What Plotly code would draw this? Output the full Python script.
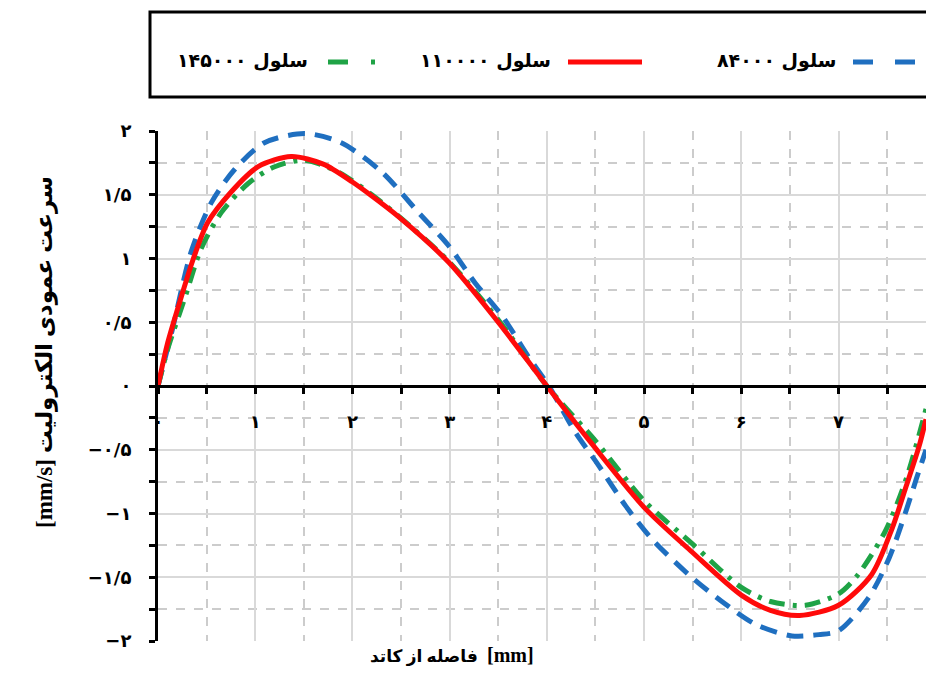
import plotly.graph_objects as go

# ---------------- data ----------------
series_names = ["سلول ۸۴۰۰۰", "سلول ۱۱۰۰۰۰", "سلول ۱۴۵۰۰۰"]

x_84k = [0, 0.15, 0.34, 0.55, 0.79, 1.10, 1.51, 1.88, 2.3, 2.68, 2.99, 3.26, 3.54, 3.81, 4.02,
         4.29, 4.53, 4.81, 5.08, 5.46, 5.80, 6.15, 6.52, 6.8, 7.0, 7.31, 7.52, 7.69, 7.80, 7.9]
y_84k = [0, 0.45, 1.05, 1.44, 1.70, 1.91, 1.98, 1.91, 1.68, 1.36, 1.10, 0.81, 0.55, 0.23, 0.0,
         -0.36, -0.62, -0.94, -1.20, -1.48, -1.69, -1.87, -1.96, -1.95, -1.92, -1.66, -1.35, -0.99, -0.73, -0.5]

x_110k = [0, 0.1, 0.24, 0.36, 0.51, 0.75, 1.03, 1.37, 1.7, 2.0, 2.2, 2.47, 2.99, 3.5, 3.98, 4.46,
          5.01, 5.49, 6.0, 6.3, 6.6, 7.0, 7.34, 7.55, 7.69, 7.83, 7.9]
y_110k = [0, 0.34, 0.70, 0.99, 1.28, 1.52, 1.72, 1.80, 1.74, 1.60, 1.49, 1.33, 0.97, 0.50, 0.02, -0.45,
          -0.96, -1.30, -1.64, -1.76, -1.80, -1.72, -1.48, -1.12, -0.80, -0.47, -0.26]

x_145k = [0, 0.1, 0.28, 0.44, 0.65, 0.93, 1.2, 1.51, 1.85, 2.2, 2.6, 3.0, 3.5, 4.0, 4.5,
          5.0, 5.5, 6.0, 6.3, 6.66, 7.0, 7.2, 7.48, 7.7, 7.9]
y_145k = [0, 0.29, 0.70, 1.07, 1.36, 1.59, 1.72, 1.77, 1.68, 1.50, 1.25, 0.97, 0.52, 0.0, -0.43,
          -0.90, -1.24, -1.58, -1.69, -1.72, -1.63, -1.48, -1.14, -0.72, -0.18]

x_tickvals = [0, 1, 2, 3, 4, 5, 6, 7]
x_ticktext = ["۰", "۱", "۲", "۳", "۴", "۵", "۶", "۷"]
y_tickvals = [2, 1.5, 1, 0.5, 0, -0.5, -1, -1.5, -2]
y_ticktext = ["۲", "۱/۵", "۱", "۰/۵", "۰", "−۰/۵", "−۱", "−۱/۵", "−۲"]

x_title_fa = "فاصله از کاتد"
x_title_unit = "[mm]"
y_title = "[mm/s] سرعت عمودی الکترولیت"

# ---------------- styles ----------------
BLUE = "#1f6fc0"
RED = "#ff0a0a"
GREEN = "#1fa346"
blue_dash = "17px,10px"
green_dash = "16px,8px,4px,8px"
FONT = "DejaVu Sans"
TFONT = "Liberation Serif, DejaVu Sans"

fig = go.Figure()
fig.add_trace(go.Scatter(x=x_84k, y=y_84k, mode="lines", name=series_names[0],
                         line=dict(color=BLUE, width=5, dash=blue_dash, shape="spline", smoothing=0.8),
                         showlegend=False))
fig.add_trace(go.Scatter(x=x_145k, y=y_145k, mode="lines", name=series_names[2],
                         line=dict(color=GREEN, width=5, dash=green_dash, shape="spline", smoothing=0.8),
                         showlegend=False))
fig.add_trace(go.Scatter(x=x_110k, y=y_110k, mode="lines", name=series_names[1],
                         line=dict(color=RED, width=5, shape="spline", smoothing=0.8),
                         showlegend=False))

W, H = 926, 686
ML, MR, MT, MB = 158, 0, 131, 45

fig.update_layout(
    width=W, height=H,
    margin=dict(l=ML, r=MR, t=MT, b=MB),
    paper_bgcolor="white", plot_bgcolor="white",
    font=dict(family=FONT, color="black"),
)

tickfont = dict(family=FONT, size=18, color="black", weight="bold")

fig.update_xaxes(
    range=[0, 7.9], anchor="free", position=0.5,
    tickvals=x_tickvals, ticktext=x_ticktext,
    tickfont=tickfont,
    showline=True, linecolor="black", linewidth=3,
    ticks="outside", ticklen=6, tickwidth=3, tickcolor="black",
    ticklabelstandoff=12,
    showgrid=True, gridcolor="#d9d9d9", gridwidth=1.5,
    zeroline=False,
    minor=dict(dtick=0.5, tick0=0, ticks="outside", ticklen=6, tickwidth=3, tickcolor="black",
               showgrid=True, gridcolor="#cccccc", griddash="dash", gridwidth=1.5),
)
fig.update_yaxes(
    range=[-2, 2],
    tickvals=y_tickvals, ticktext=y_ticktext,
    tickfont=tickfont,
    showline=True, linecolor="black", linewidth=3,
    ticks="outside", ticklen=6, tickwidth=3, tickcolor="black",
    ticklabelstandoff=14,
    showgrid=True, gridcolor="#d9d9d9", gridwidth=1.5,
    zeroline=False,
    minor=dict(dtick=0.25, tick0=0, ticks="outside", ticklen=6, tickwidth=3, tickcolor="black",
               showgrid=True, gridcolor="#cccccc", griddash="dash", gridwidth=1.5),
)

# pixel -> paper helpers
PW = W - ML - MR
PH = H - MT - MB
def px(xp):
    return (xp - ML) / PW
def py(yp):
    return (H - MB - yp) / PH

# axis titles
fig.add_annotation(x=px(480), y=py(668), xref="paper", yref="paper", text=x_title_fa,
                   xanchor="right", showarrow=False,
                   font=dict(family=TFONT, size=17, color="black", weight="bold"))
fig.add_annotation(x=px(485), y=py(668), xref="paper", yref="paper", text=x_title_unit,
                   xanchor="left", showarrow=False,
                   font=dict(family=TFONT, size=20, color="black", weight="bold"))
fig.add_annotation(x=px(30), y=py(352), xref="paper", yref="paper", text=y_title,
                   textangle=-90, showarrow=False,
                   font=dict(family=TFONT, size=23, color="black", weight="bold"))

# legend box
fig.add_shape(type="rect", xref="paper", yref="paper",
              x0=px(150), x1=px(940), y0=py(97), y1=py(12),
              line=dict(color="black", width=3), fillcolor="white", layer="above")

LY = py(62)
lfont = dict(family=FONT, size=19, color="black", weight="bold")
# blue entry
fig.add_shape(type="line", xref="paper", yref="paper", x0=px(853), x1=px(940), y0=LY, y1=LY,
              line=dict(color=BLUE, width=5, dash="20px,22px"))
fig.add_annotation(x=px(838), y=LY, xref="paper", yref="paper", text=series_names[0],
                   xanchor="right", yanchor="middle", yshift=2, showarrow=False, font=lfont)
# red entry
fig.add_shape(type="line", xref="paper", yref="paper", x0=px(568), x1=px(642), y0=LY, y1=LY,
              line=dict(color=RED, width=5))
fig.add_annotation(x=px(553), y=LY, xref="paper", yref="paper", text=series_names[1],
                   xanchor="right", yanchor="middle", yshift=2, showarrow=False, font=lfont)
# green entry
fig.add_shape(type="line", xref="paper", yref="paper", x0=px(328), x1=px(378), y0=LY, y1=LY,
              line=dict(color=GREEN, width=5, dash="20px,23px,4px,60px"))
fig.add_annotation(x=px(310), y=LY, xref="paper", yref="paper", text=series_names[2],
                   xanchor="right", yanchor="middle", yshift=2, showarrow=False, font=lfont)

fig.write_html("out.html")
